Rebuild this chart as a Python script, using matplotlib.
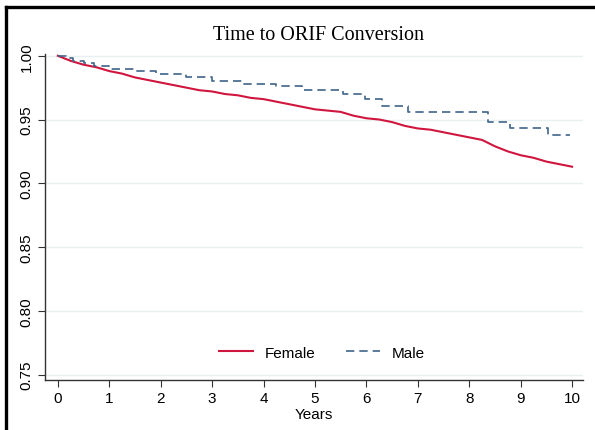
import matplotlib
matplotlib.use("Agg")
import matplotlib.pyplot as plt
from matplotlib.lines import Line2D

# survival estimates (years, proportion without conversion)
female_t = [0, 0.25, 0.5, 0.75, 1.0, 1.25, 1.5, 1.75, 2.0, 2.25, 2.5, 2.75,
            3.0, 3.25, 3.5, 3.75, 4.0, 4.25, 4.5, 4.75, 5.0, 5.25, 5.5, 5.75,
            6.0, 6.25, 6.5, 6.75, 7.0, 7.25, 7.5, 7.75, 8.0, 8.25, 8.5, 8.75,
            9.0, 9.25, 9.5, 9.75, 10.0]
female_s = [1.0, 0.996, 0.993, 0.991, 0.988, 0.986, 0.983, 0.981, 0.979, 0.977,
            0.975, 0.973, 0.972, 0.970, 0.969, 0.967, 0.966, 0.964, 0.962, 0.960,
            0.958, 0.957, 0.956, 0.953, 0.951, 0.950, 0.948, 0.945, 0.943, 0.942,
            0.940, 0.938, 0.936, 0.934, 0.929, 0.925, 0.922, 0.920, 0.917, 0.915,
            0.913]

male_t = [0, 0.15, 0.3, 0.5, 0.7, 1.0, 1.5, 1.9, 2.5, 3.0, 3.6, 4.25, 4.75,
          5.55, 5.97, 6.3, 6.8, 8.37, 8.8, 9.53, 9.96]
male_s = [1.0, 0.998, 0.996, 0.994, 0.992, 0.990, 0.988, 0.986, 0.983, 0.980,
          0.978, 0.976, 0.9735, 0.970, 0.966, 0.961, 0.956, 0.948, 0.943, 0.938,
          0.938]

x_ticks = list(range(0, 11))
y_ticks = [0.75, 0.80, 0.85, 0.90, 0.95, 1.00]

fig = plt.figure(figsize=(5.95, 4.31), dpi=100)
ax = fig.add_axes([0.0756, 0.116, 0.904, 0.757])

ax.plot(female_t, female_s, color="#d0163e", lw=1.5, label="Female")
ax.plot(male_t, male_s, drawstyle="steps-post", color="#3f6589",
        lw=1.2, ls=(0, (5, 3)), label="Male")

ax.set_xlim(-0.25, 10.21)
ax.set_ylim(0.7457, 1.0016)
ax.set_xticks(x_ticks)
ax.set_yticks(y_ticks)
ax.set_yticklabels([f"{v:.2f}" for v in y_ticks], rotation=90, va="center")
sans = "Liberation Sans"
for lab in ax.get_xticklabels() + ax.get_yticklabels():
    lab.set_fontfamily(sans)
    lab.set_fontsize(11)

ax.grid(axis="y", color="#e9f0f1", lw=1)
ax.set_axisbelow(True)
for s in ["top", "right"]:
    ax.spines[s].set_visible(False)
for s in ["left", "bottom"]:
    ax.spines[s].set_color("#333333")
    ax.spines[s].set_linewidth(1)
ax.tick_params(direction="out", length=5, color="#333333", pad=3)

ax.set_xlabel("Years", fontfamily=sans, fontsize=11, labelpad=1)
fig.text(0.535, 0.918, "Time to ORIF Conversion", ha="center", va="center",
         fontfamily="Liberation Serif", fontsize=14.5)

leg = ax.legend(loc="lower center", bbox_to_anchor=(0.515, 0.02), ncol=2,
                frameon=False, handlelength=2.2, columnspacing=2.0,
                prop={"family": sans, "size": 11})

# black frame on top and left edge of the image
fig.add_artist(Line2D([0.010, 1.0], [0.981, 0.981], color="black", lw=2.4,
                      transform=fig.transFigure))
fig.add_artist(Line2D([0.010, 0.010], [0.0, 0.981], color="black", lw=2.4,
                      transform=fig.transFigure))

fig.savefig("out.png", dpi=100)
